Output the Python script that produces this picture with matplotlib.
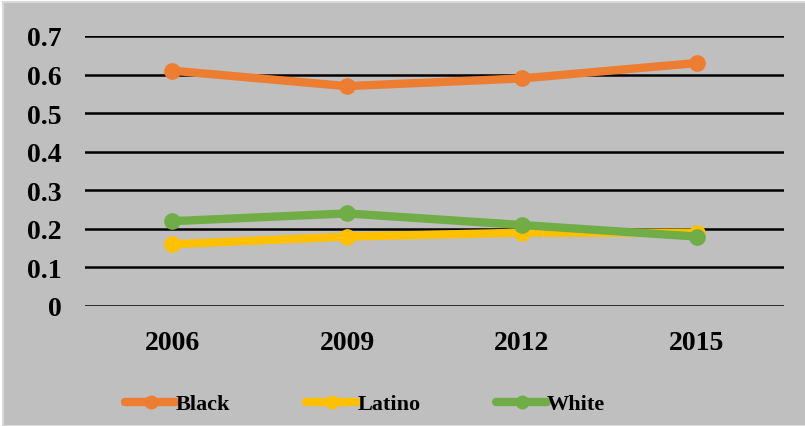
import matplotlib
matplotlib.use("Agg")
import matplotlib.pyplot as plt
import matplotlib.patches as mpatches

years = ["2006", "2009", "2012", "2015"]
black = [0.61, 0.57, 0.59, 0.63]
latino = [0.16, 0.18, 0.19, 0.19]
white = [0.22, 0.24, 0.21, 0.18]
yticks = [0, 0.1, 0.2, 0.3, 0.4, 0.5, 0.6, 0.7]
ytick_labels = ["0", "0.1", "0.2", "0.3", "0.4", "0.5", "0.6", "0.7"]

plt.rcParams["font.family"] = ["Liberation Serif", "DejaVu Serif"]
plt.rcParams["font.weight"] = "bold"

BG = "#BFBFBF"
fig = plt.figure(figsize=(8.05, 4.27), dpi=100, facecolor="white")
# grey chart area with thin light edge (top/left)
bg = mpatches.Rectangle((3 / 805, 0), 1, 1 - 3 / 427,
                        transform=fig.transFigure, facecolor=BG,
                        edgecolor="#D9D9D9", linewidth=1.5, zorder=-10)
fig.patches.append(bg)

ax = fig.add_axes([85 / 805, 120 / 427, 699 / 805, 270 / 427])
ax.patch.set_visible(False)

x = range(len(years))
series = [("Black", black, "#ED7D31"),
          ("Latino", latino, "#FFC000"),
          ("White", white, "#70AD47")]
for name, vals, col in series:
    ax.plot(x, vals, color=col, lw=6, marker="o", ms=11,
            solid_capstyle="round", label=name, zorder=3)

ax.set_xlim(-0.5, len(years) - 0.5)
ax.set_ylim(0, 0.7)
ax.set_yticks(yticks)
ax.set_yticklabels(ytick_labels)
ax.set_xticks(list(x))
ax.set_xticklabels(years)
ax.tick_params(axis="both", length=0, labelsize=20)
ax.tick_params(axis="y", pad=17)
ax.tick_params(axis="x", pad=17)
for lab in ax.get_xticklabels() + ax.get_yticklabels():
    lab.set_fontweight("bold")

ax.yaxis.grid(True, color="black", lw=1.8, zorder=1)
ax.set_axisbelow(True)
for s in ax.spines.values():
    s.set_visible(False)

leg = fig.legend(loc="center left", bbox_to_anchor=(105 / 805, 1 - 405 / 427),
                 ncol=3, frameon=False, handlelength=2.3,
                 handletextpad=0.0, columnspacing=3.4,
                 prop={"size": 16, "weight": "bold"})
for h in leg.legend_handles:
    h.set_markersize(9)

fig.savefig("out.png", dpi=100, facecolor=fig.get_facecolor())
